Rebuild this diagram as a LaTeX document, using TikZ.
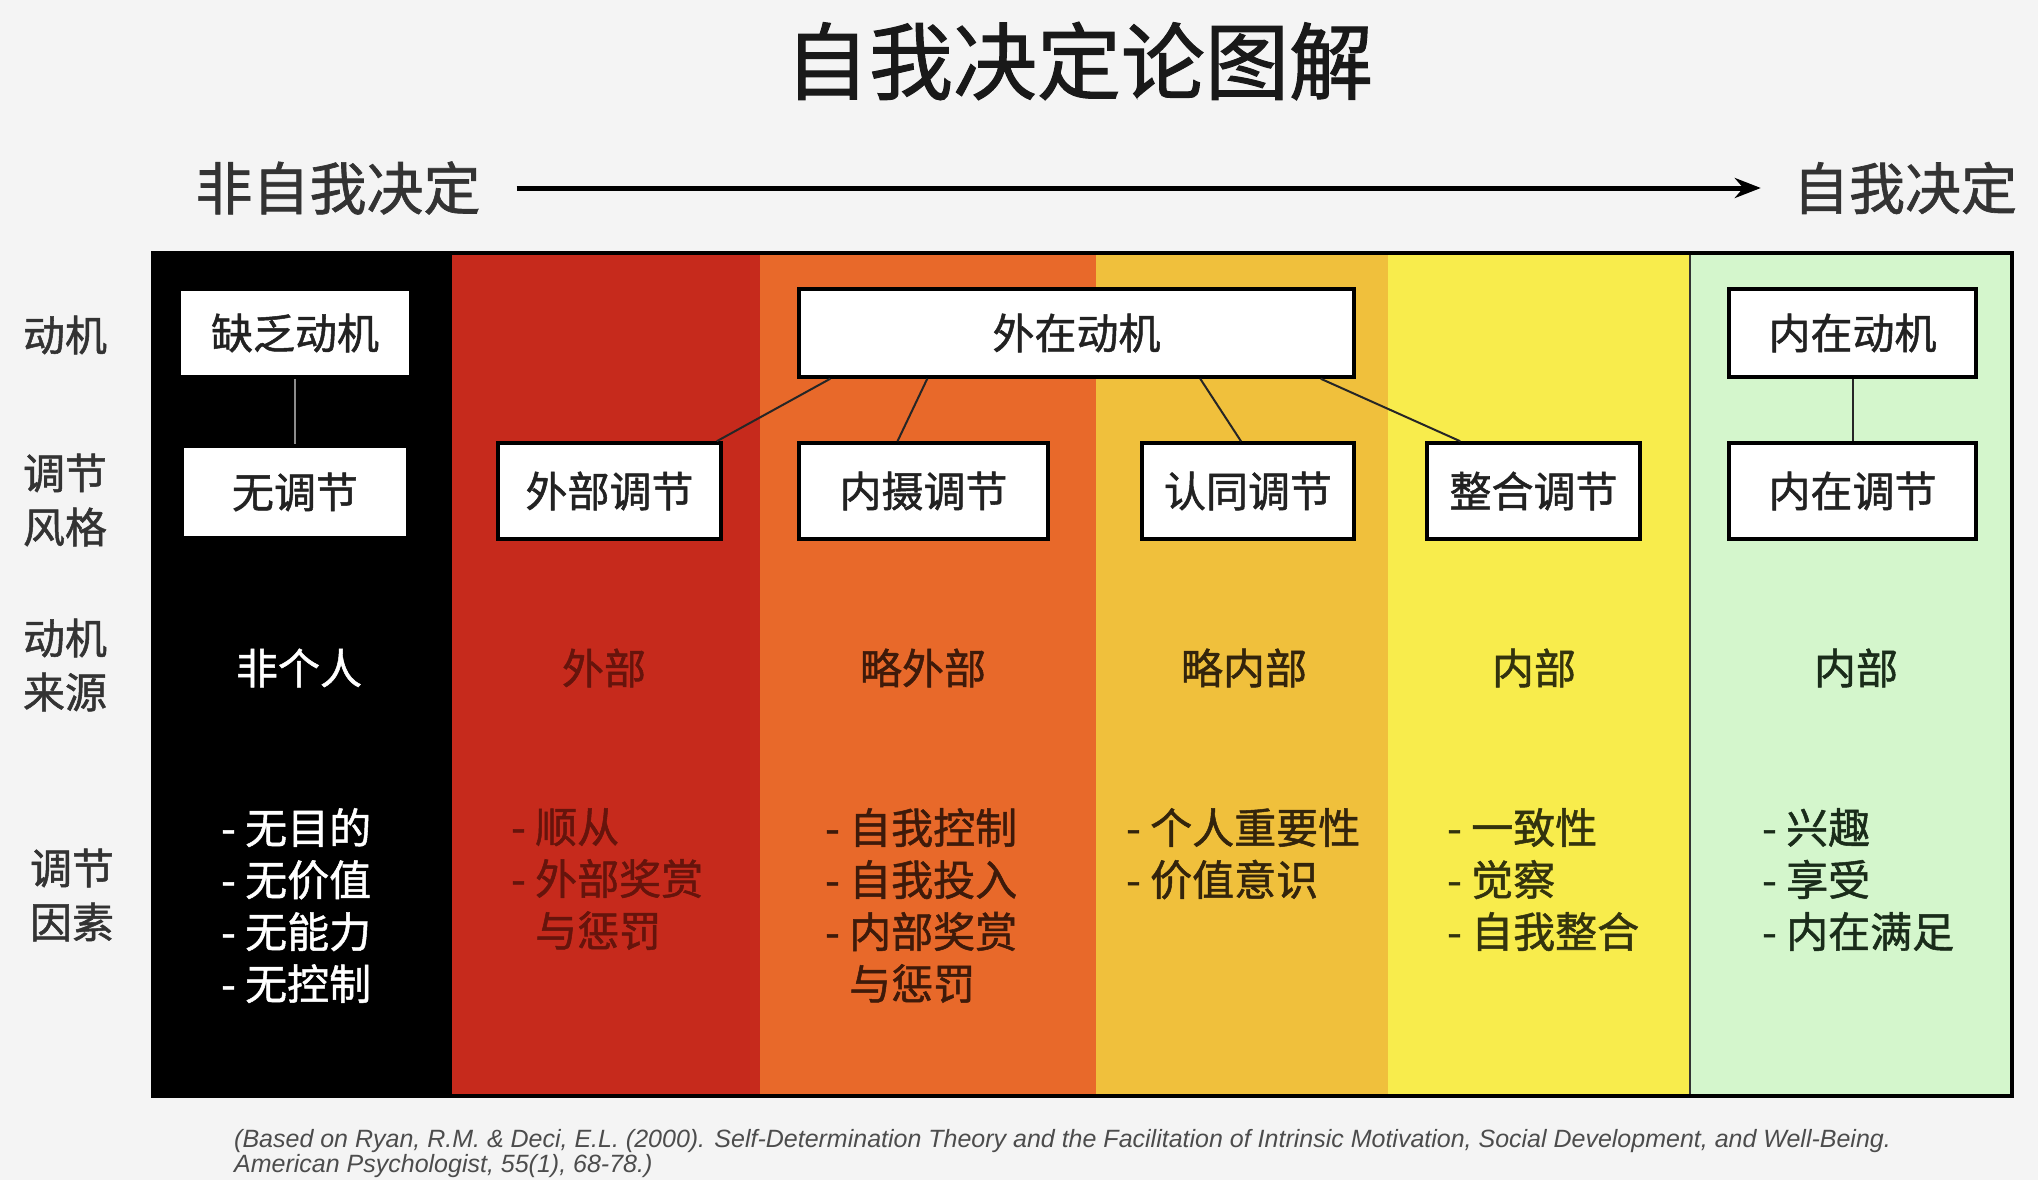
\documentclass[tikz,border=0pt]{standalone}
\usepackage{fontspec}
\setmainfont{Noto Sans CJK SC}
\newfontfamily\medfont{Noto Sans CJK SC}[FakeBold=1.2]
\newfontfamily\citefont{Liberation Sans}
\usetikzlibrary{arrows.meta}
\definecolor{bgc}{HTML}{F4F4F4}
\definecolor{cred}{HTML}{C62A1C}
\definecolor{corange}{HTML}{E8692A}
\definecolor{clorange}{HTML}{F0C03C}
\definecolor{cyellow}{HTML}{F8EC4C}
\definecolor{cgreen}{HTML}{D4F6CC}
\definecolor{tred}{HTML}{66140C}
\definecolor{torange}{HTML}{3E1A0A}
\definecolor{tlorange}{HTML}{33240C}
\definecolor{tyellow}{HTML}{33330E}
\definecolor{tgreen}{HTML}{1A2C1A}
\definecolor{tdark}{HTML}{222222}
\definecolor{tlabel}{HTML}{333333}
\tikzset{
  boxnode/.style={draw=black, fill=white, line width=3.5pt, text=tdark, inner sep=0pt,
    font=\medfont\fontsize{42}{50}\selectfont},
  conn/.style={draw=black!85, line width=2pt},
  rowlabel/.style={text=tlabel, align=center, inner sep=0pt,
    font=\medfont\fontsize{42}{54}\selectfont},
  srcnode/.style={inner sep=0pt, font=\medfont\fontsize{42}{50}\selectfont},
  listnode/.style={inner sep=0pt, anchor=north west, align=left,
    font=\medfont\fontsize{42}{52}\selectfont},
  citenode/.style={inner sep=0pt, anchor=west, text=black!70,
    font=\citefont\itshape\fontsize{25}{28}\selectfont},
}
\begin{document}
\begin{tikzpicture}[x=1pt,y=-1pt]
\useasboundingbox (0,0) rectangle (2038,1180);
\fill[bgc] (0,0) rectangle (2038,1180);
% title
\node[inner sep=0pt, text=black!90, font=\medfont\fontsize{84}{90}\selectfont] (title) at (1079,61) {自我决定论图解};
\node[inner sep=0pt, text=tlabel, font=\medfont\fontsize{57}{60}\selectfont] (nonsd) at (338,188) {非自我决定};
\node[inner sep=0pt, text=tlabel, font=\medfont\fontsize{56}{60}\selectfont] (sd) at (1905,188) {自我决定};
\draw[line width=5pt, -{Stealth[length=26pt,width=20pt]}] ([xshift=36pt]nonsd.east) -- ([xshift=-32pt]sd.west);
% columns
\fill[black] (153,253) rectangle (452,1096);
\fill[cred] (452,253) rectangle (760,1096);
\fill[corange] (760,253) rectangle (1096,1096);
\fill[clorange] (1096,253) rectangle (1388,1096);
\fill[cyellow] (1388,253) rectangle (1690,1096);
\fill[cgreen] (1690,253) rectangle (2012,1096);
\draw[line width=2pt, black!80] (1690,253) -- (1690,1096);
\draw[line width=4pt, black] (153,253) rectangle (2012,1096);
% row labels
\node[rowlabel] (l1) at (65,335) {动机};
\node[rowlabel] (l2) at (65,500) {调节\\风格};
\node[rowlabel] (l3) at (65,665) {动机\\来源};
\node[rowlabel] (l4) at (72,895) {调节\\因素};
% boxes
\node[boxnode, minimum width=232pt, minimum height=88pt] (amot) at (295,333) {缺乏动机};
\node[boxnode, minimum width=226pt, minimum height=92pt] (noreg) at (295,492) {无调节};
\node[boxnode, minimum width=223pt, minimum height=96pt] (ext) at (609.5,491) {外部调节};
\node[boxnode, minimum width=249pt, minimum height=96pt] (intro) at (923.5,491) {内摄调节};
\node[boxnode, minimum width=212pt, minimum height=96pt] (ident) at (1248,491) {认同调节};
\node[boxnode, minimum width=213pt, minimum height=96pt] (integ) at (1533.5,491) {整合调节};
\node[boxnode, minimum width=555pt, minimum height=88pt] (extm) at (1076.5,333) {外在动机};
\node[boxnode, minimum width=247pt, minimum height=88pt] (intm) at (1852.5,333) {内在动机};
\node[boxnode, minimum width=247pt, minimum height=96pt] (intreg) at (1852.5,491) {内在调节};
% connectors
\draw[line width=2pt, black!45] (amot) -- (noreg);
\draw[conn] (intm) -- (intreg);
\draw[conn] ([xshift=33pt]extm.south west) -- ([xshift=-6pt]ext.north east);
\draw[conn] ([xshift=130pt]extm.south west) -- ([xshift=-26pt]intro.north);
\draw[conn] ([xshift=403pt]extm.south west) -- ([xshift=-7pt]ident.north);
\draw[conn] ([xshift=-35pt]extm.south east) -- ([xshift=35pt]integ.north west);
% sources
\node[srcnode, text=white] (s1) at (299,668) {非个人};
\node[srcnode, text=tred] (s2) at (604,668) {外部};
\node[srcnode, text=torange] (s3) at (923,668) {略外部};
\node[srcnode, text=tlorange] (s4) at (1244,668) {略内部};
\node[srcnode, text=tyellow] (s5) at (1534,668) {内部};
\node[srcnode, text=tgreen] (s6) at (1856,668) {内部};
% factor lists
\node[listnode, text=white] (f1) at (221,808) {- 无目的\\- 无价值\\- 无能力\\- 无控制};
\node[listnode, text=tred] (f2) at (511,808) {- 顺从\\- 外部奖赏\\\phantom{- }与惩罚};
\node[listnode, text=torange] (f3) at (825,808) {- 自我控制\\- 自我投入\\- 内部奖赏\\\phantom{- }与惩罚};
\node[listnode, text=tlorange] (f4) at (1126,808) {- 个人重要性\\- 价值意识};
\node[listnode, text=tyellow] (f5) at (1447,808) {- 一致性\\- 觉察\\- 自我整合};
\node[listnode, text=tgreen] (f6) at (1762,808) {- 兴趣\\- 享受\\- 内在满足};
% citation
\node[citenode] (cite1) at (234,1141) {(Based on Ryan, R.M. \& Deci, E.L. (2000). Self-Determination Theory and the Facilitation of Intrinsic Motivation, Social Development, and Well-Being.};
\node[citenode] (cite2) at (234,1166) {American Psychologist, 55(1), 68-78.)};
\end{tikzpicture}
\end{document}
